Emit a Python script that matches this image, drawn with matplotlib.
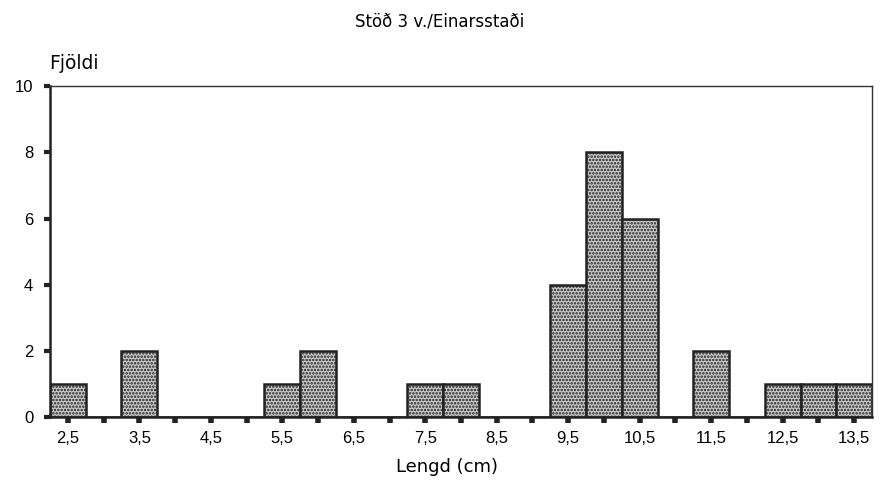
import matplotlib.pyplot as plt
import numpy as np

# length class centers (cm) and counts
lengths = [2.5, 3.0, 3.5, 4.0, 4.5, 5.0, 5.5, 6.0, 6.5, 7.0, 7.5, 8.0,
           8.5, 9.0, 9.5, 10.0, 10.5, 11.0, 11.5, 12.0, 12.5, 13.0, 13.5]
counts = [1, 0, 2, 0, 0, 0, 1, 2, 0, 0, 1, 1,
          0, 0, 4, 8, 6, 0, 2, 0, 1, 1, 1]
label_ticks = [2.5, 3.5, 4.5, 5.5, 6.5, 7.5, 8.5, 9.5, 10.5, 11.5, 12.5, 13.5]
tick_labels = ["2,5", "3,5", "4,5", "5,5", "6,5", "7,5", "8,5", "9,5",
               "10,5", "11,5", "12,5", "13,5"]

plt.rcParams['font.family'] = ['Liberation Sans', 'DejaVu Sans']
plt.rcParams['hatch.color'] = '#333333'
plt.rcParams['hatch.linewidth'] = 1.2

fig = plt.figure(figsize=(8.83, 4.83), dpi=100)
ax = fig.add_axes([0.0566, 0.1366, 0.931, 0.685])

ax.bar(lengths, counts, width=0.5, facecolor='#c8c8c8', edgecolor='#222222',
       linewidth=1.8, hatch='.....', zorder=2)

ax.set_xlim(2.25, 13.75)
ax.set_ylim(0, 10)
ax.set_yticks([0, 2, 4, 6, 8, 10])
ax.set_xticks(lengths, minor=False)
ax.set_xticklabels([tick_labels[label_ticks.index(v)] if v in label_ticks else ""
                    for v in lengths])

ax.tick_params(axis='x', direction='out', length=4, width=4, color='#222222',
               labelsize=12, pad=6)
ax.tick_params(axis='y', direction='out', length=4, width=3, color='#222222',
               labelsize=12, pad=8)

for side in ['left', 'bottom']:
    ax.spines[side].set_linewidth(1.8)
    ax.spines[side].set_color('#222222')
for side in ['top', 'right']:
    ax.spines[side].set_linewidth(1.0)
    ax.spines[side].set_color('#333333')

fig.text(0.498, 0.955, "Stöð 3 v./Einarsstaði", ha='center', va='center',
         fontsize=12, family='DejaVu Sans')
fig.text(0.056, 0.868, "Fjöldi", ha='left', va='center', fontsize=13.5,
         family='DejaVu Sans')
fig.text(0.506, 0.033, "Lengd (cm)", ha='center', va='center', fontsize=13,
         family='DejaVu Sans')

fig.savefig("out.png", dpi=100)
